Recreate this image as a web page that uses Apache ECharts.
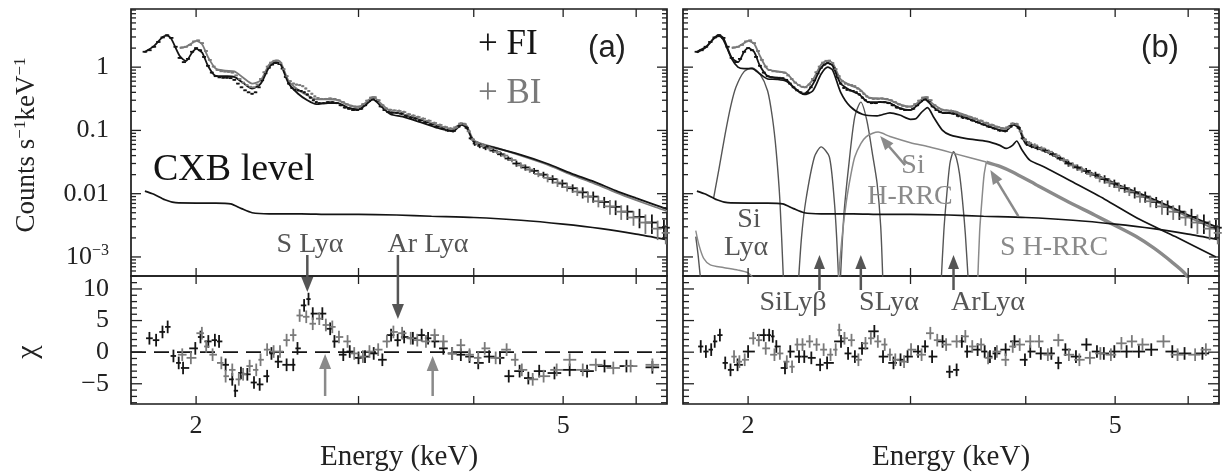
<!DOCTYPE html>
<html><head><meta charset="utf-8">
<script src="https://cdn.jsdelivr.net/npm/echarts@6/dist/echarts.min.js"></script>
<style>html,body{margin:0;padding:0;background:#fff}#c{width:1229px;height:472px}</style>
</head><body><div id="c"></div>
<script>
// ---------------- axis ranges & tick labels ----------------
const X_MIN = 1.70, X_MAX = 6.48;
const Y_MIN_SPEC = 5.0e-4, Y_MAX_SPEC = 8.3;
const Y_MIN_CHI = -8.2, Y_MAX_CHI = 12.05;
const xTickValues = [2, 3, 4, 5, 6];
const xLabelValues = [2, 5];
const specLabelValues = [0.001, 0.01, 0.1, 1];
const chiLabelValues = [-5, 0, 5, 10];

// ---------------- spectra (keV, counts/s/keV) ----------------
const fiSpectrum = [[1.76,1.75],[1.78,1.85],[1.80,2.1],[1.82,2.5],[1.84,2.95],[1.86,3.2],[1.88,2.9],[1.90,2.1],[1.92,1.4],[1.94,1.2],[1.96,1.35],[1.98,1.75],[2.00,2.0],[2.02,1.85],[2.04,1.45],[2.06,1.05],[2.08,0.82],[2.10,0.72],[2.12,0.69],[2.14,0.68],[2.16,0.68],[2.18,0.67],[2.20,0.63],[2.22,0.55],[2.24,0.48],[2.26,0.43],[2.28,0.40],[2.30,0.38],[2.32,0.40],[2.34,0.48],[2.36,0.62],[2.38,0.80],[2.40,0.98],[2.42,1.10],[2.44,1.16],[2.46,1.12],[2.48,0.95],[2.50,0.70],[2.52,0.55],[2.54,0.47],[2.56,0.44],[2.58,0.43],[2.60,0.42],[2.62,0.40],[2.64,0.37],[2.66,0.33],[2.68,0.30],[2.70,0.28],[2.72,0.27],[2.75,0.27],[2.78,0.28],[2.81,0.28],[2.84,0.27],[2.87,0.25],[2.90,0.23],[2.93,0.22],[2.96,0.21],[2.99,0.21],[3.02,0.22],[3.05,0.25],[3.08,0.29],[3.11,0.31],[3.14,0.29],[3.17,0.24],[3.20,0.21],[3.23,0.195],[3.26,0.19],[3.30,0.19],[3.34,0.185],[3.38,0.17],[3.42,0.16],[3.46,0.155],[3.50,0.145],[3.55,0.135],[3.60,0.125],[3.65,0.115],[3.70,0.108],[3.75,0.100],[3.80,0.098],[3.85,0.115],[3.89,0.125],[3.93,0.11],[3.97,0.075],[4.01,0.062],[4.06,0.057],[4.12,0.053],[4.20,0.048],[4.28,0.042],[4.36,0.036],[4.45,0.030],[4.55,0.026],[4.65,0.023],[4.76,0.020],[4.87,0.0170],[4.99,0.0145],[5.12,0.0122],[5.25,0.0105],[5.39,0.0090],[5.54,0.0074],[5.70,0.0062],[5.87,0.0052],[6.05,0.0043],[6.24,0.0035],[6.43,0.0029]];
const biSpectrum = [[1.93,2.05],[1.95,2.1],[1.97,2.25],[1.99,2.55],[2.01,2.65],[2.03,2.4],[2.05,1.8],[2.07,1.3],[2.09,1.02],[2.11,0.9],[2.13,0.86],[2.15,0.85],[2.17,0.84],[2.19,0.82],[2.21,0.74],[2.23,0.65],[2.25,0.57],[2.27,0.52],[2.29,0.49],[2.31,0.48],[2.33,0.53],[2.35,0.65],[2.37,0.83],[2.39,1.02],[2.41,1.18],[2.43,1.26],[2.45,1.27],[2.47,1.16],[2.49,0.93],[2.51,0.72],[2.53,0.6],[2.55,0.55],[2.57,0.53],[2.59,0.52],[2.61,0.5],[2.63,0.46],[2.65,0.42],[2.67,0.38],[2.69,0.345],[2.71,0.325],[2.735,0.315],[2.765,0.315],[2.795,0.32],[2.825,0.315],[2.855,0.30],[2.885,0.28],[2.915,0.258],[2.945,0.245],[2.975,0.237],[3.005,0.238],[3.035,0.26],[3.065,0.295],[3.095,0.33],[3.125,0.335],[3.155,0.30],[3.185,0.25],[3.215,0.222],[3.245,0.212],[3.28,0.207],[3.32,0.203],[3.36,0.195],[3.40,0.18],[3.44,0.171],[3.48,0.163],[3.525,0.153],[3.575,0.142],[3.625,0.131],[3.675,0.122],[3.725,0.113],[3.775,0.107],[3.825,0.112],[3.87,0.128],[3.91,0.126],[3.95,0.097],[3.99,0.072],[4.035,0.063],[4.09,0.058],[4.16,0.052],[4.24,0.046],[4.32,0.040],[4.40,0.034],[4.50,0.028],[4.60,0.024],[4.70,0.0205],[4.81,0.0178],[4.93,0.0150],[5.05,0.0127],[5.18,0.0108],[5.32,0.0090],[5.46,0.0076],[5.62,0.0063],[5.78,0.0052],[5.96,0.0042],[6.14,0.0035],[6.33,0.0028],[6.46,0.0024]];
// relative 1-sigma error by energy band: [upper edge keV, relative error]
const spectrumErrorBands = [[2.5,0.025],[3.3,0.035],[4.0,0.05],[4.4,0.08],[4.8,0.11],[5.2,0.15],[5.6,0.2],[6.0,0.26],[7.0,0.34]];

// ---------------- models, panel (a) ----------------
const fiModelA = [[1.76,1.75],[1.80,2.15],[1.84,3.0],[1.86,3.15],[1.88,2.8],[1.92,1.5],[1.95,1.25],[1.98,1.7],[2.00,1.95],[2.03,1.7],[2.06,1.05],[2.10,0.73],[2.15,0.72],[2.20,0.70],[2.25,0.56],[2.30,0.46],[2.35,0.55],[2.40,1.0],[2.44,1.2],[2.47,1.1],[2.52,0.55],[2.58,0.38],[2.64,0.30],[2.70,0.26],[2.78,0.27],[2.85,0.27],[2.92,0.23],[3.00,0.215],[3.06,0.26],[3.11,0.31],[3.17,0.245],[3.25,0.18],[3.35,0.165],[3.50,0.135],[3.65,0.11],[3.80,0.097],[3.88,0.122],[3.93,0.11],[4.00,0.066],[4.10,0.058],[4.20,0.054],[4.50,0.041],[4.80,0.030],[5.10,0.021],[5.40,0.0155],[5.70,0.0112],[6.00,0.0085],[6.30,0.0066],[6.48,0.0057]];
const biModelA = [[1.92,2.0],[1.95,2.1],[1.98,2.4],[2.00,2.6],[2.03,2.3],[2.06,1.45],[2.10,0.95],[2.15,0.88],[2.20,0.86],[2.25,0.68],[2.30,0.55],[2.35,0.62],[2.40,1.1],[2.44,1.28],[2.47,1.2],[2.52,0.6],[2.58,0.44],[2.64,0.36],[2.70,0.31],[2.78,0.31],[2.85,0.30],[2.92,0.255],[3.00,0.235],[3.06,0.28],[3.11,0.34],[3.17,0.27],[3.25,0.20],[3.35,0.18],[3.50,0.148],[3.65,0.12],[3.80,0.105],[3.88,0.13],[3.93,0.118],[4.00,0.07],[4.10,0.06],[4.20,0.055],[4.50,0.040],[4.80,0.029],[5.10,0.020],[5.40,0.0145],[5.70,0.0105],[6.00,0.0079],[6.30,0.0061],[6.48,0.0053]];
const cxbLevel = [[1.76,0.011],[1.80,0.0098],[1.85,0.0080],[1.90,0.0072],[2.00,0.0071],[2.10,0.0071],[2.18,0.0069],[2.24,0.0058],[2.30,0.0050],[2.40,0.0048],[2.60,0.0048],[2.80,0.0047],[3.00,0.0047],[3.30,0.0046],[3.60,0.0044],[4.00,0.0042],[4.50,0.0038],[5.00,0.0033],[5.50,0.0028],[6.00,0.0023],[6.45,0.0019]];

// ---------------- models & components, panel (b) ----------------
const fiModelB = [[1.76,1.75],[1.80,2.1],[1.84,2.95],[1.86,3.2],[1.88,2.9],[1.92,1.4],[1.95,1.2],[1.98,1.75],[2.00,2.0],[2.03,1.75],[2.06,1.05],[2.10,0.72],[2.15,0.68],[2.20,0.63],[2.25,0.45],[2.30,0.38],[2.35,0.53],[2.40,0.98],[2.44,1.16],[2.47,1.05],[2.52,0.55],[2.58,0.43],[2.64,0.37],[2.70,0.28],[2.78,0.28],[2.85,0.27],[2.92,0.225],[3.00,0.21],[3.06,0.26],[3.11,0.31],[3.17,0.24],[3.25,0.19],[3.35,0.185],[3.50,0.145],[3.65,0.115],[3.80,0.098],[3.88,0.122],[3.93,0.11],[4.00,0.062],[4.20,0.047],[4.50,0.028],[4.80,0.019],[5.10,0.0128],[5.40,0.0092],[5.70,0.0065],[6.00,0.0046],[6.30,0.0034],[6.48,0.0029]];
const biModelB = [[1.92,2.0],[1.95,2.1],[1.98,2.4],[2.00,2.6],[2.03,2.35],[2.06,1.5],[2.10,0.93],[2.15,0.86],[2.20,0.8],[2.25,0.57],[2.30,0.48],[2.35,0.63],[2.40,1.1],[2.44,1.26],[2.47,1.16],[2.52,0.64],[2.58,0.52],[2.64,0.45],[2.70,0.335],[2.78,0.32],[2.85,0.30],[2.92,0.258],[3.00,0.238],[3.06,0.28],[3.11,0.335],[3.17,0.265],[3.25,0.212],[3.35,0.2],[3.50,0.158],[3.65,0.125],[3.80,0.107],[3.88,0.128],[3.93,0.116],[4.00,0.068],[4.20,0.047],[4.50,0.028],[4.80,0.0182],[5.10,0.0123],[5.40,0.0087],[5.70,0.0062],[6.00,0.0043],[6.30,0.0031],[6.48,0.0026]];
const cieComponentB = [[1.76,1.7],[1.80,2.05],[1.84,2.9],[1.86,3.1],[1.88,2.7],[1.92,1.35],[1.95,1.0],[1.98,0.95],[2.02,0.95],[2.06,0.78],[2.10,0.65],[2.15,0.64],[2.20,0.6],[2.25,0.46],[2.30,0.37],[2.35,0.42],[2.40,0.78],[2.44,1.0],[2.47,0.9],[2.52,0.40],[2.58,0.24],[2.66,0.18],[2.76,0.17],[2.85,0.19],[2.92,0.175],[3.00,0.15],[3.04,0.153],[3.08,0.19],[3.13,0.23],[3.18,0.16],[3.25,0.10],[3.31,0.085],[3.45,0.074],[3.63,0.067],[3.75,0.058],[3.81,0.052],[3.87,0.058],[3.91,0.068],[3.96,0.05],[4.04,0.034],[4.20,0.026],[4.46,0.0163],[4.87,0.0082],[5.32,0.0039],[5.81,0.0021],[6.43,0.0010]];
const siLyAlphaLine = [[1.835,0.0085],[1.86,0.025],[1.889,0.089],[1.915,0.24],[1.94,0.48],[1.98,0.85],[2.02,0.97],[2.06,0.78],[2.10,0.42],[2.125,0.16],[2.145,0.048],[2.165,0.008],[2.185,0.0004]];
const siLyBetaLine = [[2.265,0.0003],[2.285,0.0020],[2.31,0.0078],[2.36,0.038],[2.40,0.055],[2.45,0.038],[2.48,0.0078],[2.495,0.002],[2.51,0.0003]];
const sLyAlphaLine = [[2.515,0.0003],[2.54,0.0045],[2.57,0.026],[2.61,0.163],[2.65,0.28],[2.69,0.144],[2.73,0.04],[2.76,0.0145],[2.785,0.003],[2.80,0.0004]];
const arLyAlphaLine = [[3.235,0.0003],[3.26,0.0025],[3.28,0.0078],[3.31,0.03],[3.34,0.046],[3.365,0.036],[3.39,0.0207],[3.415,0.008],[3.44,0.0023],[3.47,0.0003]];
const siHRRC = [[2.50,0.0003],[2.53,0.0022],[2.557,0.0078],[2.585,0.02],[2.61,0.038],[2.65,0.062],[2.685,0.079],[2.73,0.09],[2.767,0.094],[2.85,0.08],[3.0,0.064],[3.14,0.055],[3.35,0.043],[3.625,0.0316]];
const sHRRCEdge = [[3.545,0.0003],[3.565,0.0025],[3.585,0.0078],[3.605,0.02],[3.625,0.0316]];
const sHRRCTail = [[3.625,0.0316],[3.75,0.027],[3.87,0.022],[4.1,0.014],[4.42,0.0078],[4.75,0.0046],[5.03,0.003],[5.27,0.0021],[5.50,0.0014],[5.75,0.00085],[5.95,0.00055],[6.1,0.0003]];
const lowEnergyTailA = [[1.755,0.0026],[1.77,0.0015],[1.79,0.00095],[1.82,0.00075],[1.88,0.00068],[1.95,0.00062],[2.0,0.00056],[2.03,0.00045]];
const lowEnergyTailB = [[1.755,0.0021],[1.765,0.0011],[1.775,0.0005],[1.785,0.0003]];

// ---------------- residuals (chi) ----------------
const fiResidA = [[1.780,2.2],[1.810,1.9],[1.839,3.2],[1.863,4.0],[1.890,-0.6],[1.915,-1.7],[1.936,-2.5],[1.996,0.6],[2.022,2.4],[2.062,1.7],[2.096,1.9],[2.118,1.7],[2.153,-2.0],[2.189,-4.3],[2.205,-6.1],[2.237,-3.3],[2.273,-3.5],[2.311,-4.8],[2.344,-5.1],[2.388,-3.8],[2.414,-0.2],[2.454,-1.5],[2.507,-2.0],[2.549,-2.0],[2.576,0.6],[2.619,7.4],[2.648,8.4],[2.676,6.1],[2.741,6.1],[2.795,3.7],[2.825,1.7],[2.888,-0.4],[2.935,0.1],[3.000,-0.9],[3.049,-0.7],[3.116,-0.2],[3.184,-1.2],[3.254,2.7],[3.308,1.9],[3.362,2.4],[3.436,2.2],[3.512,2.7],[3.569,2.2],[3.628,1.7],[3.708,0.6],[3.790,-0.2],[3.873,-0.4],[3.958,-0.7],[4.045,-1.7],[4.157,-0.7],[4.271,-0.9],[4.365,-3.8],[4.485,-3.0],[4.584,-4.1],[4.710,-3.0],[4.893,-3.3],[5.082,-2.8],[5.308,-3.0],[5.544,-2.2],[5.856,-2.2],[6.248,-2.4]];
const biResidA = [[1.932,-0.4],[1.974,-0.9],[2.029,3.0],[2.051,0.9],[2.084,-0.4],[2.130,-1.7],[2.153,-3.8],[2.189,-2.8],[2.225,-4.3],[2.249,-3.5],[2.286,-2.2],[2.324,-2.8],[2.349,-1.2],[2.388,0.4],[2.427,0.1],[2.466,0.1],[2.507,1.9],[2.549,2.7],[2.590,5.8],[2.633,5.6],[2.676,4.5],[2.720,5.3],[2.765,4.3],[2.810,4.0],[2.857,2.4],[2.919,1.7],[2.968,-0.2],[3.033,-0.7],[3.083,0.1],[3.151,0.4],[3.220,1.7],[3.273,3.2],[3.345,3.0],[3.418,2.2],[3.474,1.9],[3.550,1.7],[3.628,2.7],[3.708,1.7],[3.790,-0.2],[3.873,1.1],[3.958,-0.4],[4.045,-0.9],[4.111,0.6],[4.225,-0.9],[4.342,0.4],[4.436,-1.2],[4.510,-2.8],[4.634,-4.3],[4.762,-3.8],[4.920,-2.8],[5.082,-1.2],[5.251,-2.8],[5.425,-2.0],[5.667,-2.5],[5.918,-2.2],[6.248,-2.0]];
const fiResidB = [[1.777,0.9],[1.800,0.1],[1.824,0.4],[1.840,1.7],[1.864,2.7],[1.889,-1.7],[1.914,-2.8],[1.948,-2.0],[2.000,0.1],[2.080,2.7],[2.108,2.7],[2.127,2.5],[2.146,0.9],[2.193,-2.5],[2.222,0.1],[2.271,-0.7],[2.301,-0.7],[2.342,-0.9],[2.394,-2.0],[2.436,-1.7],[2.522,1.7],[2.567,-0.2],[2.611,-0.7],[2.658,0.6],[2.741,3.3],[2.801,-0.7],[2.875,-1.7],[2.926,-1.2],[2.978,-0.7],[3.057,0.1],[3.111,0.9],[3.166,-0.7],[3.250,1.7],[3.307,-3.1],[3.366,-2.8],[3.410,1.7],[3.455,0.1],[3.547,0.4],[3.610,0.1],[3.658,-0.7],[3.705,-0.2],[3.804,0.4],[3.889,1.7],[3.992,-1.2],[4.045,0.1],[4.153,-0.2],[4.264,-0.2],[4.339,-1.7],[4.416,0.4],[4.534,-0.7],[4.654,1.2],[4.778,0.1],[4.861,-0.2],[4.990,0.1],[5.145,0.1],[5.305,0.1],[5.472,0.4],[5.767,0.1],[5.946,-0.2],[6.217,-0.2]];
const biResidB = [[1.931,-0.7],[1.957,-1.5],[1.983,-1.2],[2.026,2.2],[2.054,1.9],[2.090,0.6],[2.136,-0.4],[2.165,-0.2],[2.203,-1.5],[2.232,-2.3],[2.261,1.2],[2.291,1.2],[2.332,1.7],[2.373,1.2],[2.415,0.4],[2.457,-0.4],[2.489,0.4],[2.511,3.5],[2.544,2.2],[2.589,1.9],[2.634,-1.2],[2.681,1.4],[2.717,2.2],[2.765,1.7],[2.813,1.2],[2.850,-0.4],[2.888,-1.2],[2.952,-1.5],[3.004,0.4],[3.084,-0.4],[3.152,3.0],[3.207,1.9],[3.279,1.2],[3.366,1.7],[3.440,2.5],[3.500,0.9],[3.578,1.2],[3.641,-0.9],[3.722,0.1],[3.804,-1.2],[3.872,0.9],[3.940,1.2],[4.045,1.7],[4.135,1.7],[4.227,-0.4],[4.339,1.9],[4.455,-0.4],[4.573,-1.2],[4.695,-0.9],[4.819,-0.2],[4.947,-0.4],[5.079,1.4],[5.213,1.7],[5.353,1.2],[5.641,1.7],[5.843,-0.4],[6.105,-0.4],[6.271,0.4]];

// ---------------- styling ----------------
const SERIF = "'Liberation Serif','Times New Roman',serif";
const SANS = "'Liberation Sans',Arial,sans-serif";
const BLACK = '#141414', GREY = '#7a7a7a', DARKGREY = '#555555', LIGHTGREY = '#8a8a8a';
const GRIDS = [
  {left:131, top:9, width:536, height:267},
  {left:131, top:276, width:536, height:128},
  {left:683, top:9, width:536, height:267},
  {left:683, top:276, width:536, height:128}
];

function bandError(e) {
  for (const b of spectrumErrorBands) if (e <= b[0]) return b[1];
  return spectrumErrorBands[spectrumErrorBands.length - 1][1];
}
// build cross (error bar) records: [E, y, Elo, Ehi, ylo, yhi]
function crossData(points, isChi) {
  return points.map((p, i) => {
    const prev = points[i - 1], next = points[i + 1];
    const gl = prev ? (p[0] - prev[0]) / 2 : (next[0] - p[0]) / 2;
    const gr = next ? (next[0] - p[0]) / 2 : gl;
    const cap = p[0] * 0.017;
    const err = isChi ? 1 : p[1] * bandError(p[0]);
    return [p[0], p[1], p[0] - Math.min(gl, cap), p[0] + Math.min(gr, cap), p[1] - err, p[1] + err];
  });
}
function crossSeries(gi, data, color, lw, z) {
  return {
    type: 'custom', xAxisIndex: gi, yAxisIndex: gi, data, z, silent: true,
    encode: {x: 0, y: 1},
    renderItem(params, api) {
      const x = api.value(0), y = api.value(1);
      const c = api.coord([x, y]);
      const l = api.coord([api.value(2), y]), r = api.coord([api.value(3), y]);
      const b = api.coord([x, api.value(4)]), t = api.coord([x, api.value(5)]);
      return {type: 'group', children: [
        {type: 'line', shape: {x1: l[0], y1: c[1], x2: r[0], y2: c[1]}, style: {stroke: color, lineWidth: lw}},
        {type: 'line', shape: {x1: c[0], y1: b[1], x2: c[0], y2: t[1]}, style: {stroke: color, lineWidth: lw}}
      ]};
    }
  };
}
function lineSeries(gi, data, color, lw, extra) {
  return Object.assign({
    type: 'line', xAxisIndex: gi, yAxisIndex: gi, data, showSymbol: false, symbol: 'none',
    silent: true, clip: true, z: 3, smooth: 0.25, lineStyle: {color, width: lw}
  }, extra || {});
}
// tick marks on all four sides, derived from the axis values
function tickSeries(gi, isLog, yMin, yMax) {
  const data = [];
  xTickValues.forEach(v => { data.push([v, yMin, 2, 8]); data.push([v, yMax, 3, 8]); });
  if (isLog) {
    for (let k = -4; k <= 0; k++) for (let m = 1; m <= 9; m++) {
      const v = m * Math.pow(10, k);
      if (v >= yMin && v <= yMax) { const L = m === 1 ? 10 : 5; data.push([X_MIN, v, 0, L]); data.push([X_MAX, v, 1, L]); }
    }
  } else {
    for (let v = Math.ceil(yMin); v <= yMax; v++) {
      const L = v % 5 === 0 ? 11 : 6; data.push([X_MIN, v, 0, L]); data.push([X_MAX, v, 1, L]);
    }
  }
  return {
    type: 'custom', xAxisIndex: gi, yAxisIndex: gi, data, z: 6, silent: true, encode: {x: 0, y: 1},
    renderItem(params, api) {
      const c = api.coord([api.value(0), api.value(1)]);
      const d = api.value(2), L = api.value(3);
      let x2 = c[0], y2 = c[1];
      if (d === 0) x2 += L; else if (d === 1) x2 -= L; else if (d === 2) y2 -= L; else y2 += L;
      return {type: 'line', shape: {x1: c[0], y1: c[1], x2, y2}, style: {stroke: '#222', lineWidth: 1.3}};
    }
  };
}

const xAxes = GRIDS.map((g, i) => ({
  type: 'log', logBase: 10, gridIndex: i, min: X_MIN, max: X_MAX,
  axisLine: {show: false}, axisTick: {show: false}, splitLine: {show: false},
  axisLabel: (i % 2 === 1) ? {show: true, customValues: xLabelValues, margin: 9,
    fontFamily: SERIF, fontSize: 26, color: '#222', formatter: v => String(Math.round(v))} : {show: false}
}));
const yAxes = GRIDS.map((g, i) => {
  const isSpec = i % 2 === 0, showLab = i < 2;
  const base = {gridIndex: i, axisLine: {show: false}, axisTick: {show: false}, splitLine: {show: false}};
  if (isSpec) return Object.assign(base, {type: 'log', logBase: 10, min: Y_MIN_SPEC, max: Y_MAX_SPEC,
    axisLabel: showLab ? {show: true, customValues: specLabelValues, margin: 22, color: '#222',
      formatter: v => v < 0.005 ? '{n|10}{s|−3}' : '{n|' + (v >= 1 ? '1' : v >= 0.05 ? '0.1' : '0.01') + '}',
      rich: {n: {fontFamily: SERIF, fontSize: 26, color: '#222', lineHeight: 28},
             s: {fontFamily: SERIF, fontSize: 16, color: '#222', verticalAlign: 'top', lineHeight: 16}}} : {show: false}});
  return Object.assign(base, {type: 'value', min: Y_MIN_CHI, max: Y_MAX_CHI,
    axisLabel: showLab ? {show: true, customValues: chiLabelValues, margin: 22, fontFamily: SERIF, fontSize: 26, color: '#222',
      formatter: v => (v < 0 ? '−' + Math.abs(v) : String(v))} : {show: false}});
});

const LW_DATA = 1.8, LW_MODEL = 1.8;
const series = [
  // panel (a) spectra
  lineSeries(0, cxbLevel, BLACK, 1.7),
  lineSeries(0, biModelA, GREY, LW_MODEL),
  lineSeries(0, fiModelA, BLACK, LW_MODEL),
  crossSeries(0, crossData(fiSpectrum, false), BLACK, LW_DATA, 4),
  crossSeries(0, crossData(biSpectrum, false), GREY, LW_DATA, 4),
  tickSeries(0, true, Y_MIN_SPEC, Y_MAX_SPEC),
  // panel (a) residuals
  lineSeries(1, [[X_MIN, 0], [X_MAX, 0]], BLACK, 1.5, {smooth: false, lineStyle: {color: BLACK, width: 1.6, type: [15, 8]}}),
  crossSeries(1, crossData(fiResidA, true), BLACK, LW_DATA, 4),
  crossSeries(1, crossData(biResidA, true), GREY, LW_DATA, 4),
  tickSeries(1, false, Y_MIN_CHI, Y_MAX_CHI),
  // panel (b) components
  lineSeries(2, lowEnergyTailA, LIGHTGREY, 1.4),
  lineSeries(2, lowEnergyTailB, DARKGREY, 1.4),
  lineSeries(2, siLyAlphaLine, DARKGREY, 1.4),
  lineSeries(2, siLyBetaLine, DARKGREY, 1.4),
  lineSeries(2, sLyAlphaLine, DARKGREY, 1.4),
  lineSeries(2, arLyAlphaLine, DARKGREY, 1.4),
  lineSeries(2, siHRRC, LIGHTGREY, 1.5),
  lineSeries(2, sHRRCEdge, LIGHTGREY, 1.5),
  lineSeries(2, sHRRCTail, LIGHTGREY, 3.4),
  lineSeries(2, cxbLevel, BLACK, 1.7),
  lineSeries(2, cieComponentB, BLACK, 1.7),
  lineSeries(2, biModelB, GREY, LW_MODEL),
  lineSeries(2, fiModelB, BLACK, LW_MODEL),
  crossSeries(2, crossData(fiSpectrum, false), BLACK, LW_DATA, 4),
  crossSeries(2, crossData(biSpectrum, false), GREY, LW_DATA, 4),
  tickSeries(2, true, Y_MIN_SPEC, Y_MAX_SPEC),
  // panel (b) residuals
  crossSeries(3, crossData(fiResidB, true), BLACK, LW_DATA, 4),
  crossSeries(3, crossData(biResidB, true), GREY, LW_DATA, 4),
  tickSeries(3, false, Y_MIN_CHI, Y_MAX_CHI)
];

const chart = echarts.init(document.getElementById('c'), null, {renderer: 'canvas'});
chart.setOption({
  animation: false,
  backgroundColor: '#fff',
  grid: GRIDS.map(g => Object.assign({show: true, borderColor: '#1a1a1a', borderWidth: 1.7, backgroundColor: 'transparent', containLabel: false}, g)),
  xAxis: xAxes, yAxis: yAxes, series
});

// ---------------- annotations ----------------
function px(gi, e, v) { return chart.convertToPixel({gridIndex: gi}, [e, v]); }
function arrow(x1, y1, x2, y2, color, w, hl, hw) {
  const a = Math.atan2(y2 - y1, x2 - x1);
  const bx = x2 - hl * Math.cos(a), by = y2 - hl * Math.sin(a);
  const ox = -Math.sin(a) * hw / 2, oy = Math.cos(a) * hw / 2;
  return [
    {type: 'line', shape: {x1, y1, x2: bx + Math.cos(a) * 2, y2: by + Math.sin(a) * 2}, style: {stroke: color, lineWidth: w}, z: 20},
    {type: 'polygon', shape: {points: [[x2, y2], [bx + ox, by + oy], [bx - ox, by - oy]]}, style: {fill: color}, z: 20}
  ];
}
function txt(x, y, text, color, size, family, extra) {
  return {type: 'text', x, y, z: 20, style: Object.assign({text, fill: color, fontSize: size, fontFamily: family || SERIF, align: 'center', verticalAlign: 'middle'}, extra || {})};
}
const g = [];
// axis titles
g.push({type: 'text', x: 27, y: 145, rotation: Math.PI / 2, z: 20, style: {
  text: '{n|Counts s}{s|−1}{n|keV}{s|−1}', align: 'center', verticalAlign: 'middle',
  rich: {n: {fontFamily: SERIF, fontSize: 27, fill: '#222', lineHeight: 29}, s: {fontFamily: SERIF, fontSize: 17, fill: '#222', verticalAlign: 'top', lineHeight: 17}}}});
g.push({type: 'text', x: 28, y: 352, rotation: Math.PI / 2, z: 20, style: {text: 'χ', fill: '#222', fontSize: 30, fontFamily: SERIF, align: 'center', verticalAlign: 'middle'}});
g.push(txt(399, 457, 'Energy (keV)', '#222', 29));
g.push(txt(951, 457, 'Energy (keV)', '#222', 29));
// panel (a) labels
g.push(txt(607, 48, '(a)', '#222', 31, SANS));
g.push(txt(1160, 48, '(b)', '#222', 31, SANS));
g.push(txt(478, 45, '+ FI', BLACK, 35, SERIF, {align: 'left'}));
g.push(txt(478, 94, '+ BI', GREY, 35, SERIF, {align: 'left'}));
g.push(txt(153, 170, 'CXB level', BLACK, 38, SERIF, {align: 'left'}));
g.push(txt(310, 245, 'S Lyα', DARKGREY, 28));
g.push(txt(428, 245, 'Ar Lyα', DARKGREY, 28));
// panel (a) arrows
let p = px(1, 2.64, 0); g.push(...arrow(p[0], 255, p[0], 292, DARKGREY, 2.5, 15, 12));
p = px(1, 3.31, 0); g.push(...arrow(p[0], 255, p[0], 319, DARKGREY, 2.5, 15, 12));
p = px(1, 2.76, 0); g.push(...arrow(p[0], 396, p[0], 354, LIGHTGREY, 2.5, 15, 12));
p = px(1, 3.61, 0); g.push(...arrow(p[0], 396, p[0], 356, LIGHTGREY, 2.5, 15, 12));
// panel (b) labels
g.push(txt(749, 220, 'Si', DARKGREY, 28));
g.push(txt(746, 248, 'Lyα', DARKGREY, 28));
g.push(txt(913, 166, 'Si', LIGHTGREY, 28));
g.push(txt(910, 197, 'H-RRC', LIGHTGREY, 28));
g.push(txt(1054, 248, 'S H-RRC', LIGHTGREY, 28));
g.push(txt(793, 303, 'SiLyβ', DARKGREY, 28));
g.push(txt(889, 303, 'SLyα', DARKGREY, 28));
g.push(txt(988, 303, 'ArLyα', DARKGREY, 28));
[2.39, 2.65, 3.34].forEach(e => { const q = px(3, e, 0); g.push(...arrow(q[0], 290, q[0], 255, DARKGREY, 2.5, 14, 11)); });
p = px(2, 2.767, 0.094); g.push(...arrow(p[0] + 27, p[1] + 33, p[0] + 2, p[1] + 4, LIGHTGREY, 2.5, 14, 11));
p = px(2, 3.625, 0.0316); g.push(...arrow(p[0] + 32, p[1] + 54, p[0] + 4, p[1] + 8, LIGHTGREY, 2.5, 14, 11));
chart.setOption({graphic: g});
</script>
</body></html>
